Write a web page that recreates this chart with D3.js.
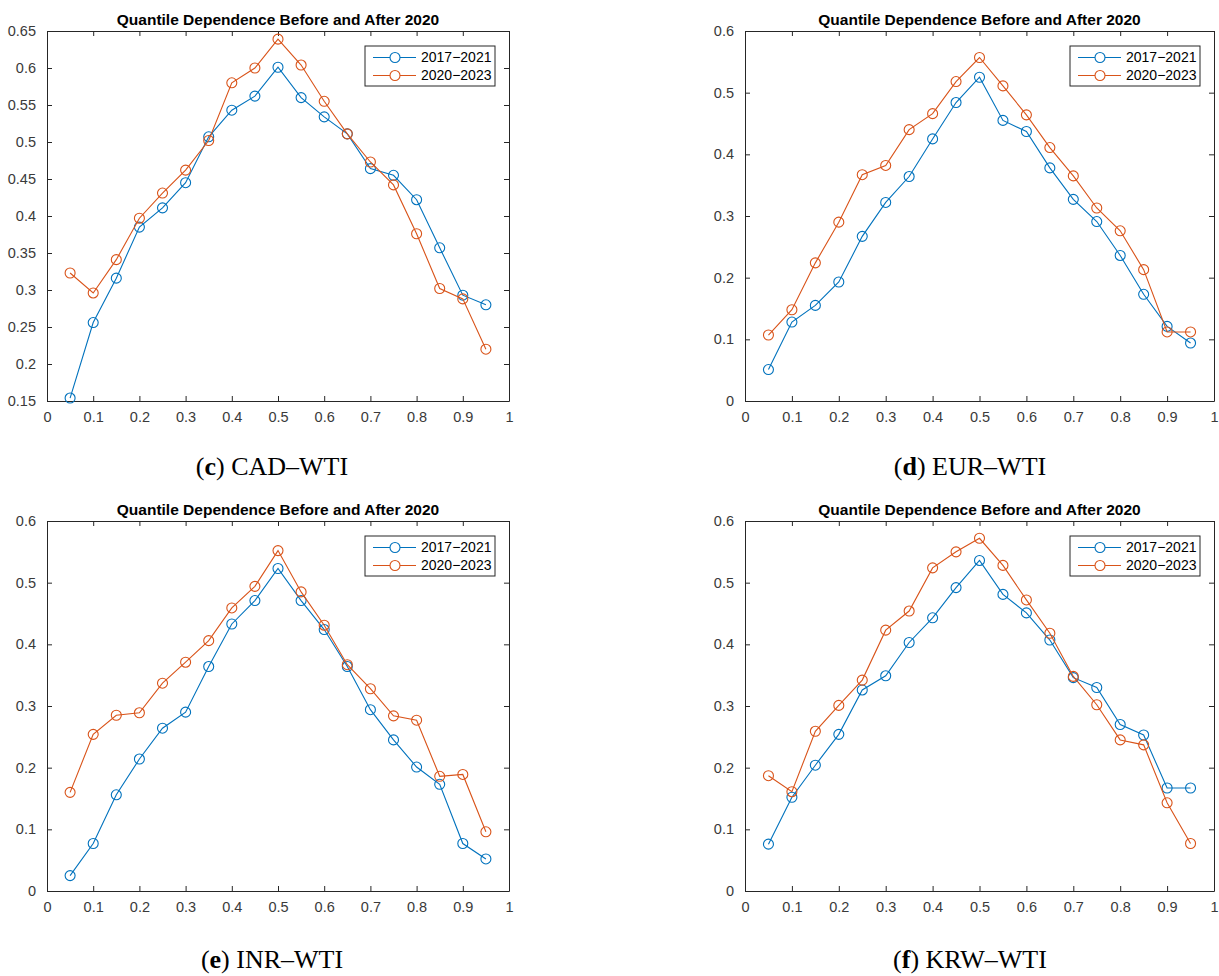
<!DOCTYPE html>
<html>
<head>
<meta charset="utf-8">
<script src="https://cdn.jsdelivr.net/npm/d3@7"></script>
<style>
  html, body { margin: 0; padding: 0; background: #ffffff; }
  svg { display: block; }
</style>
</head>
<body>
<svg id="chart" width="1219" height="976"></svg>
<script>
// ---------------- data ----------------
const quantiles = [0.05, 0.10, 0.15, 0.20, 0.25, 0.30, 0.35, 0.40, 0.45, 0.50,
                   0.55, 0.60, 0.65, 0.70, 0.75, 0.80, 0.85, 0.90, 0.95];
const seriesNames = ["2017\u22122021", "2020\u22122023"];
const chartTitle = "Quantile Dependence Before and After 2020";

const cadBefore = [0.154, 0.256, 0.316, 0.385, 0.411, 0.445, 0.507, 0.543, 0.562, 0.601,
                   0.560, 0.534, 0.511, 0.464, 0.455, 0.422, 0.357, 0.293, 0.280];
const cadAfter  = [0.323, 0.296, 0.341, 0.397, 0.431, 0.462, 0.502, 0.580, 0.600, 0.639,
                   0.604, 0.555, 0.511, 0.473, 0.442, 0.376, 0.302, 0.288, 0.220];

const eurBefore = [0.051, 0.128, 0.155, 0.193, 0.267, 0.322, 0.364, 0.425, 0.484, 0.525,
                   0.455, 0.437, 0.378, 0.327, 0.291, 0.236, 0.173, 0.121, 0.094];
const eurAfter  = [0.107, 0.148, 0.224, 0.290, 0.367, 0.382, 0.440, 0.466, 0.518, 0.557,
                   0.511, 0.464, 0.411, 0.365, 0.313, 0.276, 0.213, 0.112, 0.112];

const inrBefore = [0.025, 0.077, 0.156, 0.214, 0.264, 0.290, 0.364, 0.433, 0.471, 0.523,
                   0.471, 0.424, 0.364, 0.294, 0.245, 0.201, 0.173, 0.077, 0.052];
const inrAfter  = [0.160, 0.254, 0.285, 0.289, 0.337, 0.371, 0.406, 0.459, 0.494, 0.552,
                   0.485, 0.431, 0.367, 0.328, 0.284, 0.277, 0.186, 0.189, 0.096];

const krwBefore = [0.076, 0.152, 0.204, 0.254, 0.326, 0.349, 0.403, 0.443, 0.492, 0.536,
                   0.481, 0.451, 0.407, 0.346, 0.330, 0.270, 0.253, 0.167, 0.167];
const krwAfter  = [0.187, 0.161, 0.259, 0.301, 0.342, 0.423, 0.454, 0.524, 0.550, 0.572,
                   0.528, 0.472, 0.418, 0.348, 0.302, 0.245, 0.237, 0.143, 0.077];

const xTicks = [0, 0.1, 0.2, 0.3, 0.4, 0.5, 0.6, 0.7, 0.8, 0.9, 1];
const yTicksCAD = [0.15, 0.2, 0.25, 0.3, 0.35, 0.4, 0.45, 0.5, 0.55, 0.6, 0.65];
const yTicksOther = [0, 0.1, 0.2, 0.3, 0.4, 0.5, 0.6];
const captionLetters = ["c", "d", "e", "f"];
const captionPairs = ["CAD\u2013WTI", "EUR\u2013WTI", "INR\u2013WTI", "KRW\u2013WTI"];

// ---------------- layout / style ----------------
const colors = ["#0072BD", "#D95319"];
const axisColor = "#262626";
const panels = [
  { before: cadBefore, after: cadAfter, yDomain: [0.15, 0.65], yTicks: yTicksCAD,
    left: 47, right: 509, top: 31, bottom: 401, capX: 272, capY: 475 },
  { before: eurBefore, after: eurAfter, yDomain: [0, 0.6], yTicks: yTicksOther,
    left: 745, right: 1214, top: 31, bottom: 401, capX: 970, capY: 475 },
  { before: inrBefore, after: inrAfter, yDomain: [0, 0.6], yTicks: yTicksOther,
    left: 47, right: 509, top: 521, bottom: 891, capX: 272, capY: 968 },
  { before: krwBefore, after: krwAfter, yDomain: [0, 0.6], yTicks: yTicksOther,
    left: 745, right: 1214, top: 521, bottom: 891, capX: 970, capY: 968 }
];

const svg = d3.select("#chart");
const fmt = v => String(+v.toFixed(2));
const tickLen = 5;
const sansFont = "'Liberation Sans', Arial, Helvetica, sans-serif";

panels.forEach((p, i) => {
  const x = d3.scaleLinear().domain([0, 1]).range([p.left, p.right]);
  const y = d3.scaleLinear().domain(p.yDomain).range([p.bottom, p.top]);
  const g = svg.append("g");

  g.append("rect")
    .attr("x", p.left).attr("y", p.top)
    .attr("width", p.right - p.left).attr("height", p.bottom - p.top)
    .attr("fill", "#ffffff");

  const xb = g.append("g").attr("transform", `translate(0,${p.bottom})`)
    .call(d3.axisBottom(x).tickValues(xTicks).tickFormat(fmt)
      .tickSizeInner(-tickLen).tickSizeOuter(0).tickPadding(11));
  const xt = g.append("g").attr("transform", `translate(0,${p.top})`)
    .call(d3.axisTop(x).tickValues(xTicks).tickFormat("")
      .tickSizeInner(-tickLen).tickSizeOuter(0));
  const yl = g.append("g").attr("transform", `translate(${p.left},0)`)
    .call(d3.axisLeft(y).tickValues(p.yTicks).tickFormat(fmt)
      .tickSizeInner(-tickLen).tickSizeOuter(0).tickPadding(11));
  const yr = g.append("g").attr("transform", `translate(${p.right},0)`)
    .call(d3.axisRight(y).tickValues(p.yTicks).tickFormat("")
      .tickSizeInner(-tickLen).tickSizeOuter(0));

  [xb, xt, yl, yr].forEach(ax => {
    ax.select(".domain").attr("stroke", axisColor).attr("stroke-width", 1);
    ax.selectAll(".tick line").attr("stroke", axisColor).attr("stroke-width", 1);
    ax.selectAll(".tick text")
      .attr("fill", "#3a3a3a")
      .style("font-family", sansFont)
      .style("font-size", "14.5px");
  });
  xb.selectAll(".tick text").attr("dy", "0.71em");

  // title
  g.append("text")
    .attr("x", (p.left + p.right) / 2)
    .attr("y", p.top - 6)
    .attr("text-anchor", "middle")
    .style("font-family", sansFont)
    .style("font-size", "15.5px")
    .style("font-weight", "bold")
    .attr("fill", "#000000")
    .text(chartTitle);

  // series lines & markers
  const line = d3.line().x((d, k) => x(quantiles[k])).y(d => y(d));
  [p.before, p.after].forEach((vals, s) => {
    g.append("path")
      .datum(vals)
      .attr("d", line)
      .attr("fill", "none")
      .attr("stroke", colors[s])
      .attr("stroke-width", 1.1);
    g.selectAll(null)
      .data(vals)
      .enter().append("circle")
      .attr("cx", (d, k) => x(quantiles[k]))
      .attr("cy", d => y(d))
      .attr("r", 5)
      .attr("fill", "none")
      .attr("stroke", colors[s])
      .attr("stroke-width", 1.1);
  });

  // legend
  const lgW = 130, lgH = 40;
  const lgX = p.right - 144, lgY = p.top + 15;
  const lg = g.append("g").attr("transform", `translate(${lgX},${lgY})`);
  lg.append("rect")
    .attr("width", lgW).attr("height", lgH)
    .attr("fill", "#ffffff")
    .attr("stroke", axisColor).attr("stroke-width", 1);
  seriesNames.forEach((name, s) => {
    const cy = 11.5 + s * 18;
    lg.append("line")
      .attr("x1", 8).attr("x2", 51).attr("y1", cy).attr("y2", cy)
      .attr("stroke", colors[s]).attr("stroke-width", 1.1);
    lg.append("circle")
      .attr("cx", 30).attr("cy", cy).attr("r", 5)
      .attr("fill", "#ffffff").attr("stroke", colors[s]).attr("stroke-width", 1.1);
    lg.append("text")
      .attr("x", 56).attr("y", cy)
      .attr("dy", "0.35em")
      .style("font-family", sansFont)
      .style("font-size", "14px")
      .attr("fill", "#000000")
      .text(name);
  });

  // caption
  const cap = svg.append("text")
    .attr("x", p.capX).attr("y", p.capY)
    .attr("text-anchor", "middle")
    .style("font-family", "'Liberation Serif', 'Times New Roman', serif")
    .style("font-size", "26px")
    .attr("fill", "#000000");
  cap.append("tspan").text("(");
  cap.append("tspan").style("font-weight", "bold").text(captionLetters[i]);
  cap.append("tspan").text(") " + captionPairs[i]);
});
</script>
</body>
</html>
